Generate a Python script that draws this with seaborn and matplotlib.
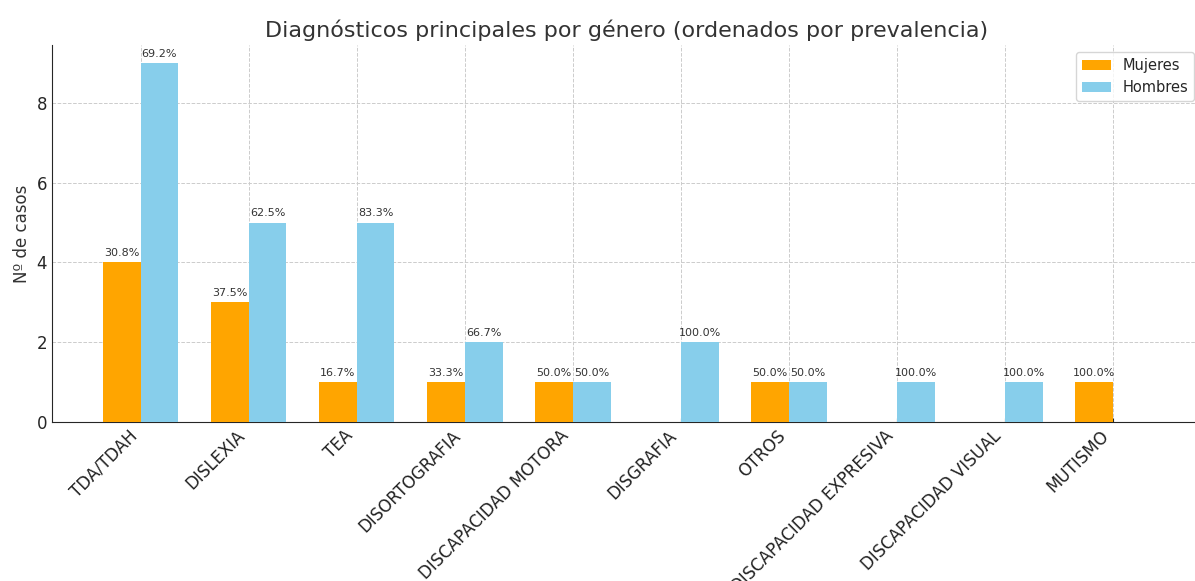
import matplotlib
matplotlib.use("Agg")
import matplotlib.pyplot as plt
import seaborn as sns
import pandas as pd

diagnosticos = ["TDA/TDAH", "DISLEXIA", "TEA", "DISORTOGRAFIA", "DISCAPACIDAD MOTORA",
                "DISGRAFIA", "OTROS", "DISCAPACIDAD EXPRESIVA", "DISCAPACIDAD VISUAL",
                "MUTISMO"]
mujeres = [4, 3, 1, 1, 1, 0, 1, 0, 0, 1]
hombres = [9, 5, 5, 2, 1, 2, 1, 1, 1, 0]
generos = ["Mujeres", "Hombres"]
colores = {"Mujeres": "orange", "Hombres": "skyblue"}

df = pd.DataFrame({
    "diagnostico": diagnosticos * 2,
    "genero": ["Mujeres"] * len(diagnosticos) + ["Hombres"] * len(diagnosticos),
    "casos": mujeres + hombres,
})
totales = [m + h for m, h in zip(mujeres, hombres)]

sns.set_style("ticks")
fig = plt.figure(figsize=(11.95, 5.81), dpi=100)
ax = fig.add_axes([0.0435, 0.2737, 0.962, 0.6488])

sns.barplot(data=df, x="diagnostico", y="casos", hue="genero", hue_order=generos,
            palette=colores, width=0.7, saturation=1, linewidth=0, ax=ax, zorder=3)

# etiquetas de porcentaje sobre cada barra
for container, valores in zip(ax.containers, [mujeres, hombres]):
    for bar, v, tot in zip(container, valores, totales):
        if v == 0:
            continue
        ax.annotate(f"{100 * v / tot:.1f}%",
                    (bar.get_x() + bar.get_width() / 2, bar.get_height()),
                    xytext=(0, 3), textcoords="offset points",
                    ha="center", va="bottom", fontsize=8, color="#333333")

ax.set_xlim(-0.82, 9.82)
ax.set_ylim(0, 9.45)
ax.set_title("Diagnósticos principales por género (ordenados por prevalencia)",
             fontsize=16, color="#333333")
ax.set_xlabel("")
ax.set_ylabel("Nº de casos", fontsize=12, color="#333333")
ax.set_xticks(range(len(diagnosticos)))
ax.set_xticklabels(diagnosticos, rotation=45, ha="right", fontsize=12, color="#222222")
ax.tick_params(axis="y", labelsize=12, length=0)
ax.tick_params(axis="x", direction="in", length=3)
ax.grid(True, linestyle="--", linewidth=0.7, color="#cccccc", zorder=0)
ax.set_axisbelow(True)
sns.despine(ax=ax, top=True, right=True)
ax.legend(title=None, loc="upper right", fontsize=10.5)

fig.savefig("out.png", dpi=100)
